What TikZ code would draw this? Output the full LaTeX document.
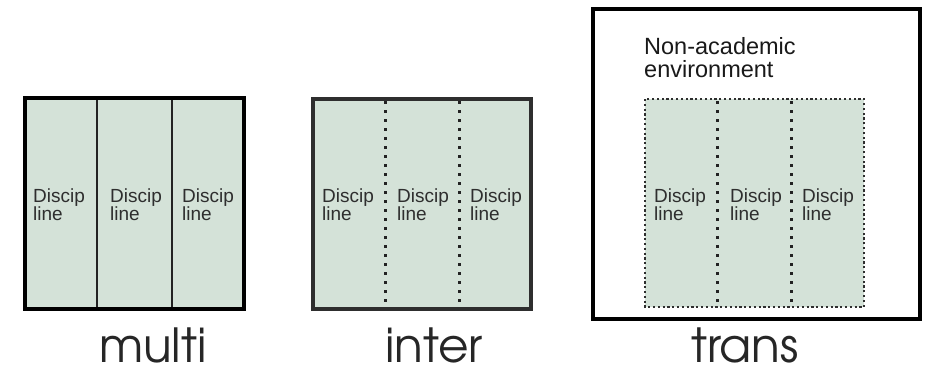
\documentclass[tikz,border=0pt]{standalone}
\usepackage{fontspec}
\setmainfont{Liberation Sans}
\newfontfamily\geofont{TeX Gyre Adventor}
\usepackage{xcolor}
\usepackage{tikz}
\usetikzlibrary{calc}
\definecolor{cellbg}{HTML}{D4E2D8}
\definecolor{ink}{HTML}{2E2E2E}
\definecolor{wall}{HTML}{222222}
\tikzset{
  box/.style={draw=black, line width=4pt},
  boxg/.style={draw=ink, line width=3.5pt},
  solidwall/.style={draw=wall, line width=2pt},
  dotwall/.style={draw=wall, line width=3pt, dash pattern=on 3pt off 6pt},
  dotedge/.style={draw=ink, line width=2.2pt, dash pattern=on 2.2pt off 2.6pt},
  disc/.style={anchor=base west, inner sep=0pt, align=left, text=ink, font=\fontsize{19}{18}\selectfont},
  envlab/.style={anchor=base west, inner sep=0pt, align=left, text=black!90, font=\fontsize{23.5}{22.5}\selectfont},
  bigl/.style={anchor=base, inner sep=0pt, text depth=0pt, text=black!85, font=\geofont\fontsize{47}{47}\selectfont},
}
\begin{document}
\begin{tikzpicture}[x=1pt, y=-1pt]
  \useasboundingbox (0,0) rectangle (930,368);
  % multi
  \coordinate (MA) at (25,98);
  \coordinate (MB) at (244,309);
  \fill[cellbg] (MA) rectangle (MB);
  \draw[solidwall] (97,98) -- (97,309);
  \draw[solidwall] (172,98) -- (172,309);
  \draw[box] (MA) rectangle (MB);
  \node[disc] (m1) at (33,220) {Discip\\line};
  \node[disc] (m2) at (110,220) {Discip\\line};
  \node[disc] (m3) at (182,220) {Discip\\line};
  \node[bigl] (multi) at (153,362) {multi};
  % inter
  \coordinate (IA) at (313,99);
  \coordinate (IB) at (531,309);
  \fill[cellbg] (IA) rectangle (IB);
  \draw[dotwall] (385,101) -- (385,309);
  \draw[dotwall] (459,101) -- (459,309);
  \draw[boxg] (IA) rectangle (IB);
  \node[disc] (i1) at (322,220) {Discip\\line};
  \node[disc] (i2) at (397,220) {Discip\\line};
  \node[disc] (i3) at (470,220) {Discip\\line};
  \node[bigl] (inter) at (434,362) {inter};
  % trans
  \coordinate (TA) at (593,9);
  \coordinate (TB) at (920,319);
  \coordinate (DA) at (645,99);
  \coordinate (DB) at (864,307);
  \fill[cellbg] (DA) rectangle (DB);
  \draw[dotwall] (717,101) -- (717,307);
  \draw[dotwall] (791,101) -- (791,307);
  \draw[dotedge] (DA) rectangle (DB);
  \draw[box] (TA) rectangle (TB);
  \node[envlab] (env) at (644,77) {Non-academic\\environment};
  \node[disc] (t1) at (654,220) {Discip\\line};
  \node[disc] (t2) at (730,220) {Discip\\line};
  \node[disc] (t3) at (802,220) {Discip\\line};
  \node[bigl] (trans) at (745,362) {trans};
\end{tikzpicture}
\end{document}
